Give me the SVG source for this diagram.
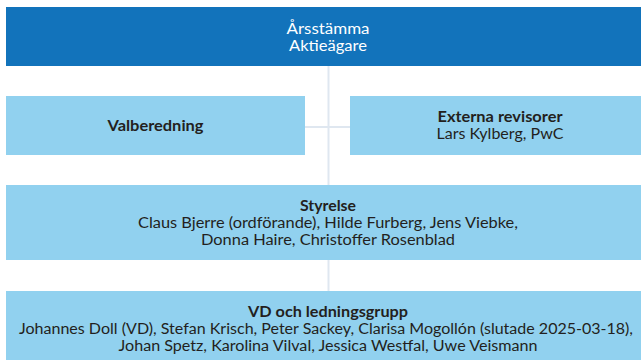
<svg xmlns="http://www.w3.org/2000/svg" width="641" height="360" viewBox="0 0 641 360">
<style>
.dark{fill:#1273bb}
.light{fill:#91d1ef}
.t{font-family:Lato,"Noto Sans","Liberation Sans",sans-serif;font-size:14.5px;text-anchor:middle;fill:#231f20}
.b{font-weight:bold}
.w{fill:#ffffff}
.c{stroke:#dfe7f0;stroke-width:2;fill:none}
</style>
<rect width="641" height="360" fill="#ffffff"/>
<g id="connectors">
<line class="c" x1="328.5" y1="66" x2="328.5" y2="291"/>
<line class="c" x1="305" y1="127" x2="350" y2="127"/>
</g>
<g id="arsstamma">
<rect class="dark" x="6" y="7" width="645" height="59"/>
<text class="t w" x="328" y="34" textLength="83" lengthAdjust="spacingAndGlyphs">Årsstämma</text>
<text class="t w" x="328" y="51" textLength="78" lengthAdjust="spacingAndGlyphs">Aktieägare</text>
</g>
<g id="valberedning">
<rect class="light" x="6" y="96" width="299" height="59"/>
<text class="t b" x="155.5" y="131" textLength="96" lengthAdjust="spacingAndGlyphs">Valberedning</text>
</g>
<g id="revisorer">
<rect class="light" x="350" y="96" width="301" height="59"/>
<text class="t b" x="500" y="122" textLength="125" lengthAdjust="spacingAndGlyphs">Externa revisorer</text>
<text class="t" x="500" y="139" textLength="127" lengthAdjust="spacingAndGlyphs">Lars Kylberg, PwC</text>
</g>
<g id="styrelse">
<rect class="light" x="6" y="185" width="645" height="75"/>
<text class="t b" x="328" y="211" textLength="56" lengthAdjust="spacingAndGlyphs">Styrelse</text>
<text class="t" x="328" y="228" textLength="380" lengthAdjust="spacingAndGlyphs">Claus Bjerre (ordförande), Hilde Furberg, Jens Viebke,</text>
<text class="t" x="328" y="245" textLength="254" lengthAdjust="spacingAndGlyphs">Donna Haire, Christoffer Rosenblad</text>
</g>
<g id="ledningsgrupp">
<rect class="light" x="6" y="291" width="645" height="69"/>
<text class="t b" x="328" y="317" textLength="160" lengthAdjust="spacingAndGlyphs">VD och ledningsgrupp</text>
<text class="t" x="326" y="334" textLength="614" lengthAdjust="spacingAndGlyphs">Johannes Doll (VD), Stefan Krisch, Peter Sackey, Clarisa Mogollón (slutade 2025-03-18),</text>
<text class="t" x="328" y="351" textLength="419" lengthAdjust="spacingAndGlyphs">Johan Spetz, Karolina Vilval, Jessica Westfal, Uwe Veismann</text>
</g>
</svg>
